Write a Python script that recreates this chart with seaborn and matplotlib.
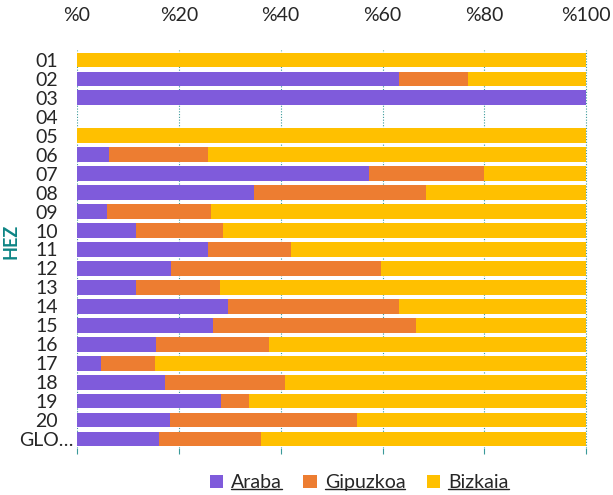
import pandas as pd
import matplotlib.pyplot as plt
import seaborn as sns
from matplotlib.patches import Patch
from matplotlib.lines import Line2D

# datuak (irudiaren gainean irakurriak, %)
hez = ['01', '02', '03', '04', '05', '06', '07', '08', '09', '10',
       '11', '12', '13', '14', '15', '16', '17', '18', '19', '20', 'GLO…']
araba = [0, 63.2, 100, 0, 0, 6.2, 57.3, 34.8, 5.9, 11.5,
         25.7, 18.5, 11.6, 29.6, 26.8, 15.5, 4.7, 17.3, 28.2, 18.3, 16.1]
gipuzkoa = [0, 13.6, 0, 0, 0, 19.6, 22.6, 33.7, 20.4, 17.2,
            16.3, 41.2, 16.5, 33.6, 39.7, 22.2, 10.7, 23.5, 5.6, 36.6, 20.0]
bizkaia = [100, 23.2, 0, 0, 100, 74.2, 20.1, 31.5, 73.7, 71.3,
           58.0, 40.3, 71.9, 36.8, 33.5, 62.3, 84.6, 59.2, 66.2, 45.1, 63.9]

series = ['Araba', 'Gipuzkoa', 'Bizkaia']
colors = ['#7F5BDB', '#ED7D31', '#FFC000']

df = pd.DataFrame({'hez': hez, 'Araba': araba, 'Gipuzkoa': gipuzkoa, 'Bizkaia': bizkaia})
# metatutako balioak
df['c1'] = df['Araba']
df['c2'] = df['c1'] + df['Gipuzkoa']
df['c3'] = df['c2'] + df['Bizkaia']

sns.set_style('white')
plt.rcParams['font.family'] = ['Lato', 'DejaVu Sans']

fig = plt.figure(figsize=(6.13, 4.95), dpi=100)
ax = fig.add_axes([0.1256, 0.094, 0.8334, 0.804])

# atzetik aurrera marraztu: horia, laranja, morea
for col, c in zip(['c3', 'c2', 'c1'], colors[::-1]):
    sns.barplot(data=df, x=col, y='hez', orient='h', color=c, saturation=1,
                width=0.78, linewidth=0, ax=ax, zorder=3)

ax.set_xlim(0, 100.3)
ax.set_ylim(len(hez) - 0.5, -0.5)
ax.set_xticks([0, 20, 40, 60, 80, 100])
ax.set_xticklabels(['%0', '%20', '%40', '%60', '%80', '%100'])
ax.xaxis.set_ticks_position('bottom')
ax.tick_params(axis='x', which='both', labelbottom=False, labeltop=True,
               top=False, bottom=True, length=4, color='#3A9A9A', width=0.8,
               labelsize=14, pad=15)
ax.tick_params(axis='y', length=0, labelsize=14, pad=22)
for lbl in ax.get_yticklabels():
    lbl.set_horizontalalignment('center')
ax.grid(True, axis='x', color='#3A9A9A', linestyle=(0, (1, 1.5)), linewidth=0.8, zorder=0)
ax.grid(False, axis='y')
for s in ax.spines.values():
    s.set_visible(False)

ax.set_xlabel('')
ax.set_ylabel('HEZ', color='#0E8585', fontweight='bold', fontsize=13)
ax.yaxis.set_label_coords(-0.113, 0.52)

handles = [Patch(facecolor=c, edgecolor='none') for c in colors]
leg = fig.legend(handles, series, loc='lower center', bbox_to_anchor=(0.586, -0.028),
                 ncol=3, frameon=False, fontsize=14, handlelength=0.7,
                 handleheight=0.7, handletextpad=0.4, columnspacing=1.1)

# legendako testuak azpimarratu
fig.canvas.draw()
inv = fig.transFigure.inverted()
for t in leg.get_texts():
    bb = t.get_window_extent()
    (x0, y0), (x1, _) = inv.transform([[bb.x0, bb.y0 + 2], [bb.x1, bb.y0]])
    fig.add_artist(Line2D([x0, x1], [y0, y0], transform=fig.transFigure,
                          color='#222222', linewidth=1))

plt.savefig('out.png', dpi=100)
plt.close()
